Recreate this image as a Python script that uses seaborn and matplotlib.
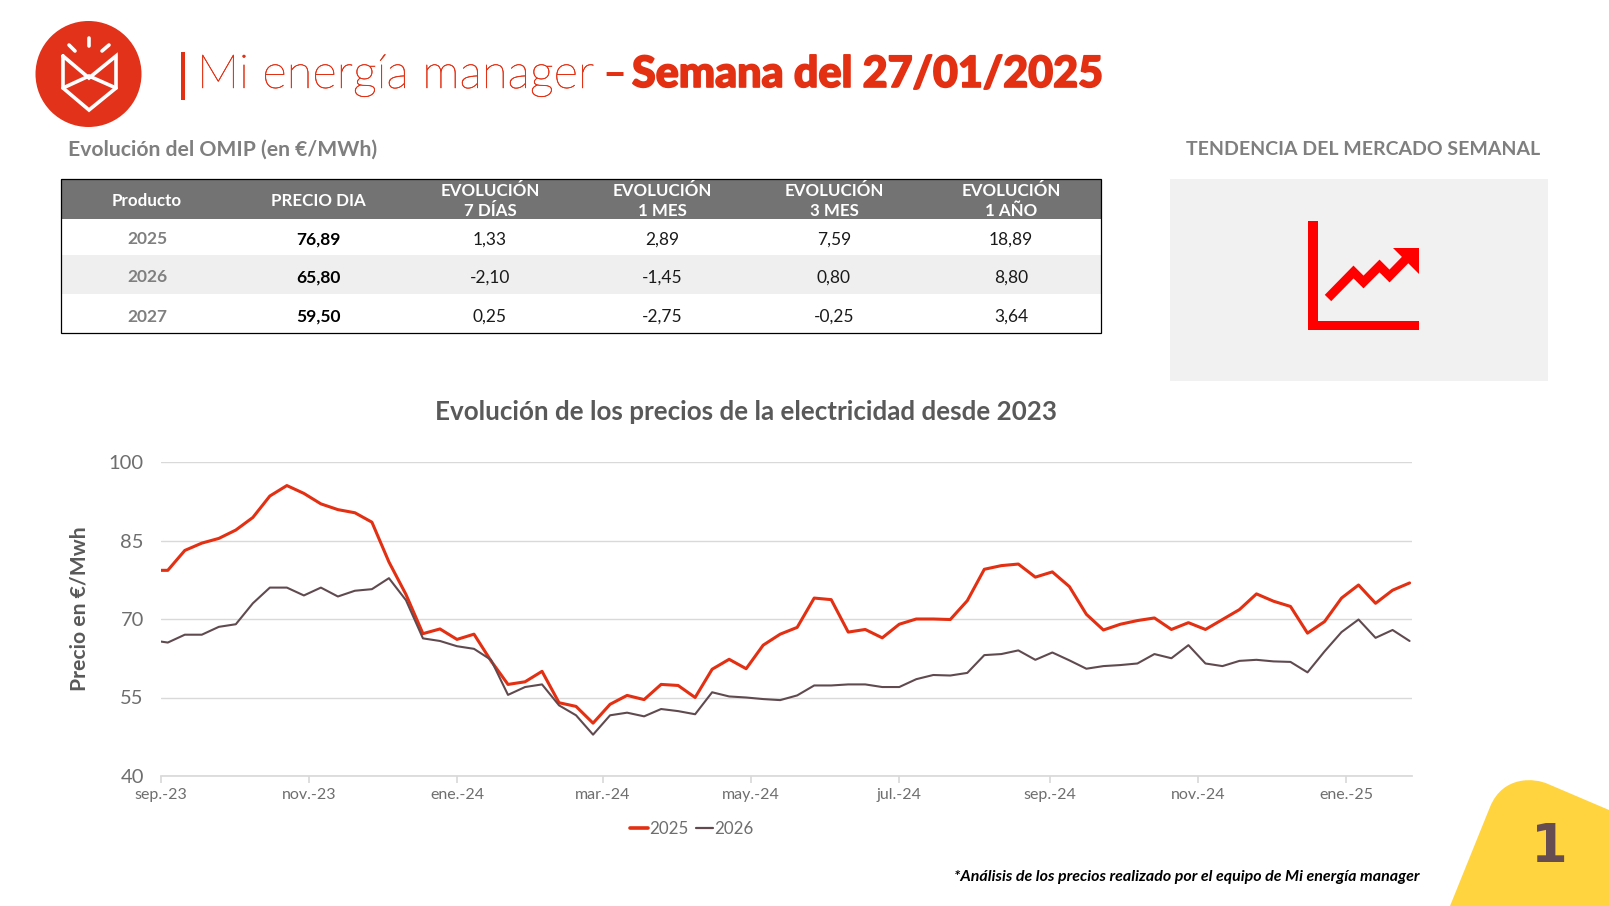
import numpy as np
import pandas as pd
import matplotlib
matplotlib.use("Agg")
import matplotlib.pyplot as plt
import matplotlib.patheffects as pe
from matplotlib.patches import Circle, Rectangle, Polygon, PathPatch
from matplotlib.path import Path
from matplotlib.lines import Line2D
import seaborn as sns

# ---------- data ----------
dates = [pd.Timestamp("2023-09-01")] + list(pd.date_range("2023-09-04", "2025-01-27", freq="7D"))
price_2025 = [79.3, 79.3, 83.1, 84.5, 85.4, 87.0, 89.4, 93.5, 95.5, 94.0, 92.0, 90.9, 90.3, 88.5, 80.9,
              74.7, 67.2, 68.1, 66.1, 67.1, 62.0, 57.5, 58.0, 60.0, 54.0, 53.3, 50.1, 53.7,
              55.4, 54.6, 57.5, 57.3, 55.0, 60.4, 62.3, 60.5, 65.0, 67.1, 68.4, 74.0, 73.7, 67.5, 68.0,
              66.4, 69.0, 70.0, 70.0, 69.9, 73.5, 79.5, 80.2, 80.5, 78.0,
              79.0, 76.2, 70.9, 67.9, 69.0, 69.7, 70.2, 68.0, 69.3, 68.0, 69.9, 71.8, 74.8, 73.4, 72.4,
              67.3, 69.5, 74.0, 76.5, 73.0, 75.5, 76.89]
price_2026 = [65.7, 65.5, 67.0, 67.0, 68.5, 69.0, 73.0, 76.0, 76.0, 74.5, 76.0, 74.3, 75.4, 75.7, 77.8,
              73.6, 66.3, 65.8, 64.8, 64.3, 62.2, 55.5, 57.0, 57.5, 53.5, 51.6, 47.9, 51.6,
              52.1, 51.4, 52.8, 52.4, 51.8, 56.0, 55.2, 55.0, 54.7, 54.5, 55.4, 57.3, 57.3, 57.5, 57.5,
              57.0, 57.0, 58.5, 59.3, 59.2, 59.7, 63.1, 63.3, 64.0, 62.2,
              63.6, 62.1, 60.5, 61.0, 61.2, 61.5, 63.3, 62.5, 65.0, 61.5, 61.0, 62.0, 62.2, 61.9, 61.8,
              59.8, 63.8, 67.5, 69.9, 66.4, 67.9, 65.80]
y_ticks = [40, 55, 70, 85, 100]
x_tick_dates = ["2023-09-01", "2023-11-01", "2024-01-01", "2024-03-01", "2024-05-01",
                "2024-07-01", "2024-09-01", "2024-11-01", "2025-01-01"]
x_tick_labels = ["sep.-23", "nov.-23", "ene.-24", "mar.-24", "may.-24",
                 "jul.-24", "sep.-24", "nov.-24", "ene.-25"]

table_header = [["Producto"], ["PRECIO DIA"], ["EVOLUCIÓN", "7 DÍAS"], ["EVOLUCIÓN", "1 MES"],
                ["EVOLUCIÓN", "3 MES"], ["EVOLUCIÓN", "1 AÑO"]]
table_products = ["2025", "2026", "2027"]
table_price = ["76,89", "65,80", "59,50"]
table_7d = ["1,33", "-2,10", "0,25"]
table_1m = ["2,89", "-1,45", "-2,75"]
table_3m = ["7,59", "0,80", "-0,25"]
table_1y = ["18,89", "8,80", "3,64"]

RED = "#e32f12"
PLUM = "#604a50"
GREY = "#7f7f7f"
TICK = "#6e6e6e"
SANS = "Lato"

sns.set_theme(style="white")
plt.rcParams["font.family"] = [SANS, "DejaVu Sans"]

W, H = 1609, 906
fig = plt.figure(figsize=(W / 100, H / 100), dpi=100, facecolor="white")

# ---------- line chart ----------
L, R, T, B = 160.5, 1412, 462, 776
ax = fig.add_axes([L / W, 1 - B / H, (R - L) / W, (B - T) / H])
df = pd.DataFrame({"fecha": dates * 2,
                   "precio": price_2025 + price_2026,
                   "serie": ["2025"] * len(dates) + ["2026"] * len(dates)})
sns.lineplot(data=df, x="fecha", y="precio", hue="serie", palette={"2025": RED, "2026": PLUM},
             size="serie", sizes={"2025": 2.2, "2026": 1.5}, ax=ax, legend=False, zorder=3)
ax.set_xlim(pd.Timestamp("2023-09-01"), pd.Timestamp("2025-01-28"))
ax.set_ylim(40, 100)
ax.set_yticks(y_ticks)
ax.set_xticks([pd.Timestamp(d) for d in x_tick_dates])
ax.set_xticklabels(x_tick_labels)
ax.grid(axis="y", color="#d9d9d9", lw=1)
ax.set_axisbelow(True)
for s in ["top", "right", "left"]:
    ax.spines[s].set_visible(False)
ax.spines["bottom"].set_color("#d9d9d9")
ax.tick_params(axis="y", length=0, labelsize=14.5, labelcolor=TICK, pad=12)
ax.tick_params(axis="x", length=5, color="#d9d9d9", bottom=True, labelsize=11.5, labelcolor=TICK, pad=3.5)
for lab in ax.get_xticklabels():
    lab.set_x(lab.get_position()[0])
ax.set_xlabel("")
ax.set_ylabel("")

# ---------- page overlay in pixel coordinates ----------
ov = fig.add_axes([0, 0, 1, 1], facecolor="none")
ov.set_xlim(0, W)
ov.set_ylim(H, 0)
ov.axis("off")

def txt(x, y, s, **kw):
    kw.setdefault("ha", "center")
    kw.setdefault("va", "center")
    return ov.text(x, y + 1.5, s, **kw)

# logo
ov.add_patch(Circle((88.5, 74), 53, color="#e2321a", lw=0))
white = dict(color="white", lw=2.6, solid_capstyle="round", solid_joinstyle="miter")
ov.add_line(Line2D([89, 89], [38, 46], **white))
ov.add_line(Line2D([69, 75], [45, 51], **white))
ov.add_line(Line2D([109, 102], [45, 51], **white))
ov.add_line(Line2D([63, 63, 89, 116, 116, 89, 63], [56, 88, 110, 88, 56, 78, 56], **white))
ov.add_line(Line2D([63, 89, 116], [88, 76, 88], **white))

# title
ov.add_patch(Rectangle((181, 52), 4, 48, color=RED, lw=0))
t1 = txt(197, 74, "Mi energía manager", ha="left", fontsize=34, color=RED, fontweight="light", family="Lato")
t1.set_path_effects([pe.withStroke(linewidth=0.35, foreground=RED)])
txt(602, 74, "–", ha="left", fontsize=30, color=RED, fontweight="bold", family="Lato")
t2 = txt(632, 72.5, "Semana del 27/01/2025", ha="left", fontsize=31, color=RED, fontweight="black", family="Lato")
t2.set_path_effects([pe.withStroke(linewidth=1.2, foreground=RED)])

txt(68, 148, "Evolución del OMIP (en €/MWh)", ha="left", fontsize=15.2, color=GREY, fontweight="bold")
txt(1363, 148, "TENDENCIA DEL MERCADO SEMANAL", fontsize=14.0, color=GREY, fontweight="bold")

# table
tl, tr = 61, 1101
col_x = [147, 318, 490, 662, 834, 1011]
row_y = [238, 276, 315]
ov.add_patch(Rectangle((tl, 219), tr - tl, 114, facecolor="white", lw=0))
ov.add_patch(Rectangle((tl, 255), tr - tl, 39, facecolor="#efefef", lw=0))
ov.add_patch(Rectangle((tl, 178.5), tr - tl, 40.5, facecolor="#737373", lw=0))
ov.add_patch(Rectangle((tl, 178.5), tr - tl, 154.5, fill=False, edgecolor="black", lw=0.9))
for x, lines in zip(col_x, table_header):
    if len(lines) == 1:
        txt(x, 200, lines[0], fontsize=12.2, color="white", fontweight="bold")
    else:
        txt(x, 190, lines[0], fontsize=12.2, color="white", fontweight="bold")
        txt(x, 210, lines[1], fontsize=12.2, color="white", fontweight="bold")
columns = [table_products, table_price, table_7d, table_1m, table_3m, table_1y]
for c, (x, col) in enumerate(zip(col_x, columns)):
    for y, v in zip(row_y, col):
        if c == 0:
            txt(x, y, v, fontsize=12.5, color=GREY, fontweight="bold")
        elif c == 1:
            txt(x, y, v, fontsize=12.5, color="black", fontweight="bold")
        else:
            txt(x, y, v, fontsize=12.5, color="#1a1a1a")

# trend panel
ov.add_patch(Rectangle((1170, 179), 378, 202, facecolor="#f1f1f1", lw=0))
ov.add_patch(Rectangle((1308, 221), 10, 109, facecolor="#ff0000", lw=0))
ov.add_patch(Rectangle((1308, 321), 111, 9, facecolor="#ff0000", lw=0))
ov.add_line(Line2D([1328, 1353.5, 1363.5, 1379.5, 1389.5, 1413],
                   [298, 272, 282, 266, 276, 252], color="#ff0000", lw=6.5, solid_joinstyle="miter", solid_capstyle="butt"))
ov.add_patch(Polygon([(1393, 248), (1419, 248), (1419, 274)], facecolor="#ff0000", lw=0))

# chart title, axis title, legend
txt(746, 411, "Evolución de los precios de la electricidad desde 2023", fontsize=18.7, color="#595959", fontweight="bold")
txt(80, 607, "Precio en €/Mwh", rotation=90, fontsize=15.2, color="#595959", fontweight="bold")
ov.add_line(Line2D([630, 648], [828, 828], color=RED, lw=2.6))
txt(649, 827, "2025", ha="left", fontsize=12.2, color=TICK)
ov.add_line(Line2D([696, 713], [828, 828], color=PLUM, lw=1.6))
txt(714, 827, "2026", ha="left", fontsize=12.2, color=TICK)

txt(1420, 875, "*Análisis de los precios realizado por el equipo de Mi energía manager", ha="right",
    fontsize=11.5, color="black", fontweight="bold", style="italic")

# yellow corner
verts = [(1450, 906), (1490, 807), (1503, 775), (1535, 778), (1548, 784), (1609, 810), (1609, 906), (1450, 906)]
codes = [Path.MOVETO, Path.LINETO, Path.CURVE4, Path.CURVE4, Path.CURVE4, Path.LINETO, Path.LINETO, Path.CLOSEPOLY]
ov.add_patch(PathPatch(Path(verts, codes), facecolor="#ffd43f", lw=0))
txt(1549, 846, "1", fontsize=38, color="#664d52", fontweight="black", family="DejaVu Sans")

fig.savefig("out.png", dpi=100)
